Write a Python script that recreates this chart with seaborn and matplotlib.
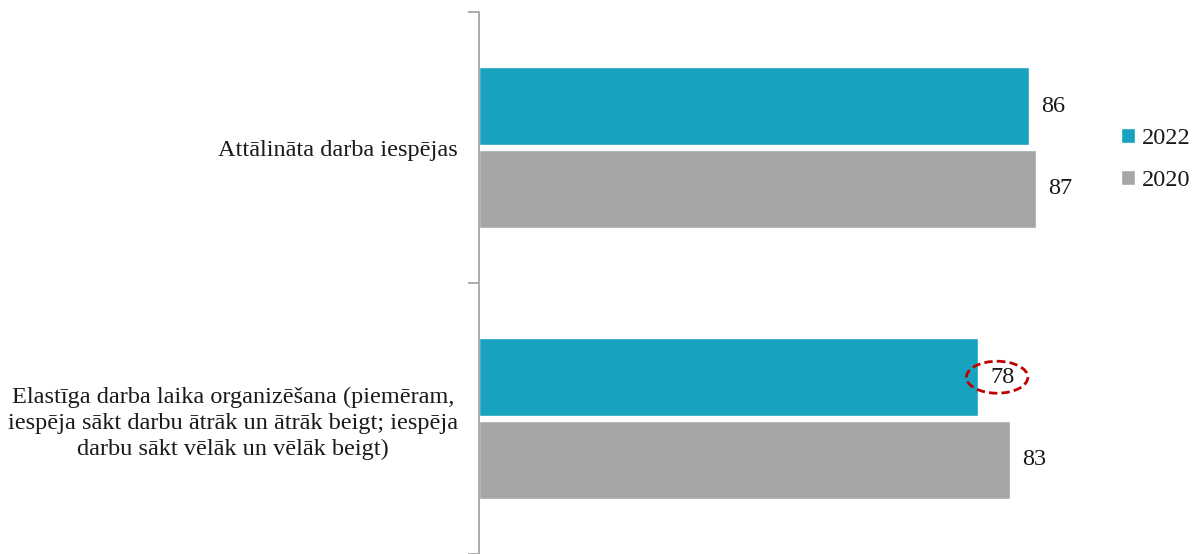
import pandas as pd
import matplotlib
matplotlib.use("Agg")
import matplotlib.pyplot as plt
import seaborn as sns
from matplotlib.patches import Ellipse

# ----------------------------
# Data
# ----------------------------
categories = [
    "Attālināta darba iespējas",
    "Elastīga darba laika organizēšana (piemēram,\niespēja sākt darbu ātrāk un ātrāk beigt; iespēja\ndarbu sākt vēlāk un vēlāk beigt)",
]
years = ["2022", "2020"]
values_2022 = [86, 78]
values_2020 = [87, 83]

df = pd.DataFrame({
    "category": categories * 2,
    "year": [years[0]] * 2 + [years[1]] * 2,
    "value": values_2022 + values_2020,
})

palette = {"2022": "#17A2BF", "2020": "#A6A6A6"}

# ----------------------------
# Plot
# ----------------------------
sns.set_style("white")
plt.rcParams["font.family"] = ["Liberation Serif", "DejaVu Serif"]
fs = 17.5

fig = plt.figure(figsize=(11.99, 5.54), dpi=100)
ax = fig.add_axes([0.3995, 0.0, 0.5335, 0.978])

sns.barplot(data=df, y="category", x="value", hue="year", hue_order=years,
            palette=palette, orient="h", width=0.61, gap=0.055,
            saturation=1, ax=ax)

ax.set_xlim(0, 100)
ax.set_ylim(1.5, -0.5)
ax.set_xlabel("")
ax.set_ylabel("")
ax.set_xticks([])

for side in ["top", "right", "bottom"]:
    ax.spines[side].set_visible(False)
ax.spines["left"].set_color("#A6A6A6")
ax.spines["left"].set_linewidth(1.3)

ax.set_yticks([0, 1])
ax.set_yticklabels(categories, fontsize=fs, color="#1a1a1a", ha="right",
                   multialignment="center", linespacing=1.3)
ax.tick_params(axis="y", which="major", length=0, pad=15)
ax.set_yticks([-0.5, 0.5, 1.5], minor=True)
ax.tick_params(axis="y", which="minor", length=8, width=1.3, color="#A6A6A6", left=True)

for cont in ax.containers:
    ax.bar_label(cont, fmt="%d", padding=9, fontsize=fs, color="#1a1a1a")

# dashed highlight around the 78 label
bar78 = ax.containers[0][1]
yc = bar78.get_y() + bar78.get_height() / 2
ax.add_patch(Ellipse((values_2022[1] + 3.0, yc), width=9.6, height=0.118,
                     fill=False, edgecolor="#C00000", linestyle=(0, (3, 1.5)),
                     linewidth=2, clip_on=False))

leg = ax.legend(loc="upper left", bbox_to_anchor=(1109 / 1199, 1 - 116 / 554),
                bbox_transform=fig.transFigure, frameon=False, borderpad=0,
                fontsize=fs, handlelength=0.55, handleheight=0.55,
                handletextpad=0.3, labelspacing=0.85)
for t in leg.get_texts():
    t.set_color("#1a1a1a")

plt.savefig("out.png", dpi=100)
plt.close()
